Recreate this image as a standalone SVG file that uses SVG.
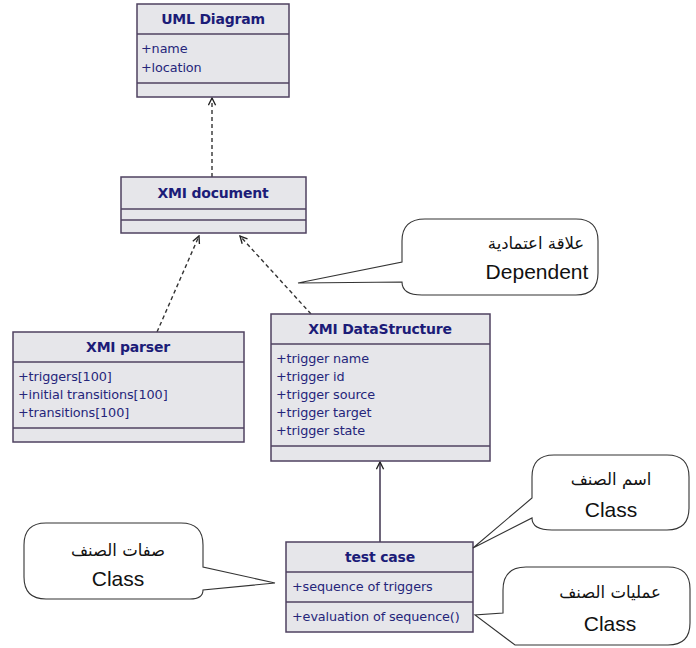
<svg xmlns="http://www.w3.org/2000/svg" width="696" height="648" viewBox="0 0 696 648">
  <style>
    .box { fill: #e6e6ea; stroke: #4f4260; stroke-width: 1.5; }
    .sep { stroke: #4f4260; stroke-width: 1.5; }
    .title { font-family: "DejaVu Sans", sans-serif; font-weight: bold; font-size: 14px; fill: #1c1c78; text-anchor: middle; letter-spacing: -0.2px; }
    .attr { font-family: "DejaVu Sans", sans-serif; font-size: 12.8px; fill: #25257a; letter-spacing: -0.1px; }
    .dep { fill: none; stroke: #333; stroke-width: 1.4; stroke-dasharray: 4 3; }
    .assoc { fill: none; stroke: #4a3f58; stroke-width: 1.6; }
    .bubble { fill: #ffffff; stroke: #333; stroke-width: 1.1; }
    .ar { font-family: "DejaVu Sans", sans-serif; font-size: 16.5px; fill: #111; text-anchor: middle; }
    .en { font-family: "Liberation Sans", Arial, sans-serif; font-size: 21px; fill: #111; text-anchor: middle; }
  </style>
  <defs>
    <marker id="open" viewBox="0 0 10 10" refX="9" refY="5" markerWidth="9" markerHeight="9" markerUnits="userSpaceOnUse" orient="auto">
      <path d="M1,1 L9,5 L1,9" fill="none" stroke="#222" stroke-width="1.5"/>
    </marker>
  </defs>

  <rect width="696" height="648" fill="#ffffff"/>

  <!-- connectors -->
  <g id="connectors">
    <line class="dep" x1="212" y1="177" x2="212" y2="98" marker-end="url(#open)"/>
    <line class="dep" x1="157" y1="332" x2="199" y2="236" marker-end="url(#open)"/>
    <line class="dep" x1="311" y1="314" x2="240" y2="236" marker-end="url(#open)"/>
    <line class="assoc" x1="380" y1="542" x2="380" y2="462" marker-end="url(#open)"/>
  </g>

  <!-- classes -->
  <g id="uml-diagram">
    <rect class="box" x="137" y="4" width="152" height="93"/>
    <line class="sep" x1="137" y1="34" x2="289" y2="34"/>
    <line class="sep" x1="137" y1="83" x2="289" y2="83"/>
    <text class="title" x="213" y="24">UML Diagram</text>
    <text class="attr" x="141" y="53">+name</text>
    <text class="attr" x="141" y="72">+location</text>
  </g>

  <g id="xmi-document">
    <rect class="box" x="121" y="177" width="185" height="56"/>
    <line class="sep" x1="121" y1="209" x2="306" y2="209"/>
    <line class="sep" x1="121" y1="220" x2="306" y2="220"/>
    <text class="title" x="213" y="198">XMI document</text>
  </g>

  <g id="xmi-parser">
    <rect class="box" x="13" y="332" width="231" height="110"/>
    <line class="sep" x1="13" y1="362" x2="244" y2="362"/>
    <line class="sep" x1="13" y1="428" x2="244" y2="428"/>
    <text class="title" x="128" y="352">XMI parser</text>
    <text class="attr" x="18" y="381">+triggers[100]</text>
    <text class="attr" x="18" y="399">+initial transitions[100]</text>
    <text class="attr" x="18" y="417">+transitions[100]</text>
  </g>

  <g id="xmi-datastructure">
    <rect class="box" x="271" y="314" width="219" height="147"/>
    <line class="sep" x1="271" y1="344" x2="490" y2="344"/>
    <line class="sep" x1="271" y1="446" x2="490" y2="446"/>
    <text class="title" x="380" y="334">XMI DataStructure</text>
    <text class="attr" x="276" y="363">+trigger name</text>
    <text class="attr" x="276" y="381">+trigger id</text>
    <text class="attr" x="276" y="399">+trigger source</text>
    <text class="attr" x="276" y="417">+trigger target</text>
    <text class="attr" x="276" y="435">+trigger state</text>
  </g>

  <g id="test-case">
    <rect class="box" x="286" y="542" width="187" height="90"/>
    <line class="sep" x1="286" y1="572" x2="473" y2="572"/>
    <line class="sep" x1="286" y1="602" x2="473" y2="602"/>
    <text class="title" x="380" y="562">test case</text>
    <text class="attr" x="292" y="591">+sequence of triggers</text>
    <text class="attr" x="292" y="621">+evaluation of sequence()</text>
  </g>

  <!-- callouts -->
  <g id="callout-dependent">
    <path class="bubble" d="M402,262 V241 Q402,219 425,219 H576 Q598,219 598,241 V273 Q598,295 576,295 H422 Q402,295 402,282 L298,283 Z"/>
    <text class="ar" x="536" y="249">علاقة اعتمادية</text>
    <text class="en" x="537" y="279">Dependent</text>
  </g>

  <g id="callout-attributes">
    <path class="bubble" d="M46,523 H181 Q203,523 203,545 V567 L275,583 L203,590 Q203,599 190,599 H46 Q24,599 24,577 V545 Q24,523 46,523 Z"/>
    <text class="ar" x="118" y="556">صفات الصنف</text>
    <text class="en" x="118" y="586">Class</text>
  </g>

  <g id="callout-name">
    <path class="bubble" d="M554,455 H667 Q689,455 689,477 V508 Q689,530 667,530 H552 Q532,530 532,518 L473,548 L532,498 V477 Q532,455 554,455 Z"/>
    <text class="ar" x="611" y="485">اسم الصنف</text>
    <text class="en" x="611" y="517">Class</text>
  </g>

  <g id="callout-operations">
    <path class="bubble" d="M503,613 V590 Q503,567 526,567 H668 Q690,567 690,589 V623 Q690,645 668,645 H515 L475,615 Z"/>
    <text class="ar" x="610" y="598">عمليات الصنف</text>
    <text class="en" x="610" y="631">Class</text>
  </g>
</svg>
